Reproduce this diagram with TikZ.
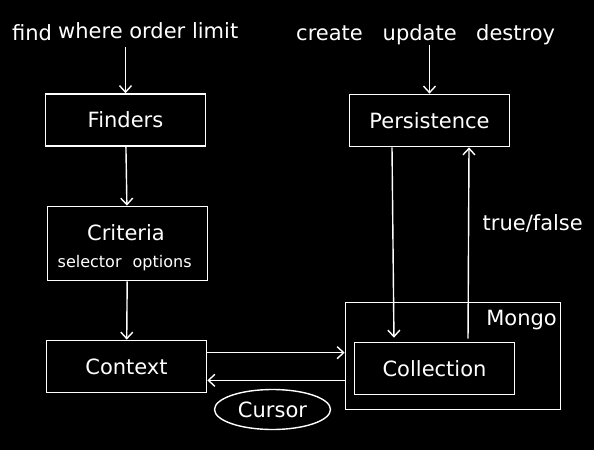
\documentclass[tikz,border=0pt]{standalone}
\usepackage{fontspec}
\setmainfont{DejaVu Sans}
\usetikzlibrary{arrows.meta, shapes.geometric}

\begin{document}
\begin{tikzpicture}[
    x=1pt, y=-1pt,
    box/.style = {rectangle, draw=white, line width=1.7pt, text=white, font=\fontsize{21}{25}\selectfont, minimum width=160pt, minimum height=52pt, inner sep=0pt},
    txt/.style = {text=white, font=\fontsize{21}{25}\selectfont, inner sep=0pt, anchor=base west},
    small/.style = {text=white, font=\fontsize{16}{19}\selectfont, inner sep=0pt, anchor=base west},
    arrow/.style = {draw=white, line width=1.4pt, -{Straight Barb[length=6.5pt, width=12pt]}}
]

% Background
\fill [black] (0,0) rectangle (594,450);
\useasboundingbox (0,0) rectangle (594,450);

% Query methods
\node (q_find) [txt] at (12,40) {find};
\node (q_where) [txt] at (58,38) {where order limit};

% Write methods
\node (w_create) [txt] at (296,40) {create};
\node (w_update) [txt] at (382.5,40) {update};
\node (w_destroy) [txt] at (476,40) {destroy};

% Box: Finders
\node (c_finders) [box] at (125.5,120) {Finders};

% Box: Criteria
\node (c_criteria) [box, minimum height=74pt] at (127.5,243.5) {};
\node (t_criteria) [txt] at (87,240) {Criteria};
\node (t_selector) [small] at (57.5,267) {selector};
\node (t_options) [small] at (132.5,267) {options};

% Box: Context
\node (c_context) [box] at (126.5,366.5) {Context};

% Box: Cursor
\node (c_cursor) [ellipse, draw=white, line width=1.4pt, text=white, font=\fontsize{21}{25}\selectfont, minimum width=116pt, minimum height=40pt, inner sep=0pt] at (272.5,409.5) {Cursor};

% Box: Persistence
\node (c_persist) [box] at (429.5,120.5) {Persistence};

% Box: Mongo
\node (c_mongo) [box, minimum width=215pt, minimum height=107pt] at (453,356) {};
\node (t_mongo) [txt, anchor=base east] at (557,325) {Mongo};

% Box: Collection
\node (c_coll) [box] at (434.5,368.5) {Collection};

\node (t_result) [txt] at (482.5,230) {true/false};

% Connections
\draw [arrow, shorten <=9pt] (q_where.south -| c_finders) -- (c_finders);
\draw [arrow] (c_finders) -- (c_criteria);
\draw [arrow] (c_criteria) -- (c_context);
\draw [arrow] ([yshift=-13pt]c_context.north east) -- ([yshift=-13pt]c_context.north east -| c_mongo.west);
\draw [arrow] ([yshift=13pt]c_context.south east -| c_mongo.west) -- ([yshift=13pt]c_context.south east);
\draw [arrow] (w_update.south -| c_persist) -- (c_persist);
\draw [arrow, shorten >=4pt] ([xshift=-37.5pt]c_persist.south) -- ([xshift=-40.5pt]c_coll.north);
\draw [arrow, shorten <=3pt] ([xshift=33.5pt]c_coll.north) -- ([xshift=39.5pt]c_persist.south);

\end{tikzpicture}
\end{document}
